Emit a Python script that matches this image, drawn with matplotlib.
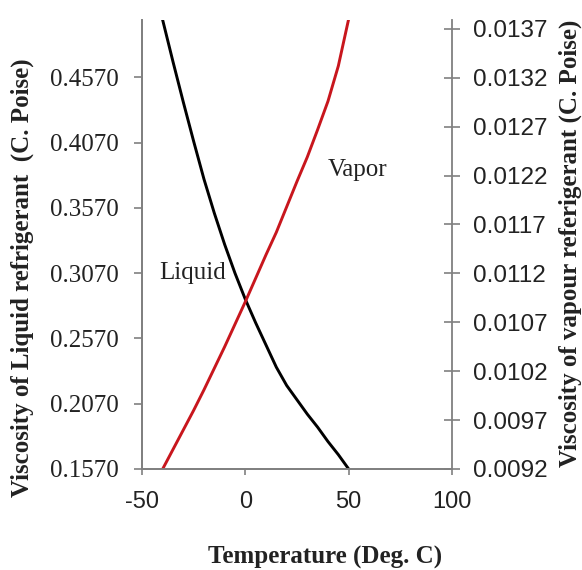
import matplotlib
matplotlib.use("Agg")
import matplotlib.pyplot as plt
from matplotlib.ticker import FormatStrFormatter

plt.rcParams["axes.unicode_minus"] = False

# temperature (deg C)
temp = [-40, -35, -30, -25, -20, -15, -10, -5, 0, 5, 10, 15, 20, 25, 30, 35, 40, 45, 50]
# liquid viscosity (C. Poise), left axis
liquid = [0.501, 0.469, 0.438, 0.408, 0.379, 0.353, 0.329, 0.307, 0.287, 0.269,
          0.252, 0.235, 0.221, 0.210, 0.199, 0.189, 0.178, 0.168, 0.157]
# vapour viscosity (C. Poise), right axis
vapor = [0.00920, 0.00940, 0.00960, 0.00980, 0.01001, 0.01023, 0.01045, 0.01068, 0.01091,
         0.01115, 0.01139, 0.01162, 0.01188, 0.01214, 0.01239, 0.01267, 0.01296, 0.01332, 0.01380]

x_ticks = [-50, 0, 50, 100]
left_ticks = [0.157, 0.207, 0.257, 0.307, 0.357, 0.407, 0.457]
right_ticks = [0.0092, 0.0097, 0.0102, 0.0107, 0.0112, 0.0117, 0.0122, 0.0127, 0.0132, 0.0137]

serif = "Liberation Serif"
sans = "Liberation Sans"
spine_col = "#808080"
text_col = "#222222"

fig = plt.figure(figsize=(5.82, 5.70), dpi=100)
ax = fig.add_axes([0.244, 0.1772, 0.5326, 0.7877])
ax2 = ax.twinx()

ax.plot(temp, liquid, color="black", linewidth=2.1, solid_joinstyle="round")
ax2.plot(temp, vapor, color="#c8161d", linewidth=2.1, solid_joinstyle="round")

ax.set_xlim(-50, 100)
ax.set_ylim(0.157, 0.501)
ax2.set_ylim(0.0092, 0.01379)

ax.set_xticks(x_ticks)
ax.set_yticks(left_ticks)
ax2.set_yticks(right_ticks)
ax.yaxis.set_major_formatter(FormatStrFormatter("%.4f"))
ax2.yaxis.set_major_formatter(FormatStrFormatter("%.4f"))

for a in (ax, ax2):
    for s in a.spines.values():
        s.set_color(spine_col)
        s.set_linewidth(1.3)
    a.spines["top"].set_visible(False)
ax.spines["right"].set_visible(False)

ax.tick_params(axis="y", direction="out", length=6, width=1.2, color=spine_col,
               pad=11, labelsize=18, labelcolor=text_col)
ax.tick_params(axis="x", direction="out", length=4.5, width=1.2, color=spine_col,
               pad=11, labelsize=17, labelcolor=text_col)
ax2.tick_params(axis="y", direction="inout", length=12, width=1.2, color=spine_col,
                pad=9, labelsize=17.5, labelcolor=text_col)
for lab in ax.get_yticklabels():
    lab.set_fontfamily(serif)
for lab in ax.get_xticklabels() + ax2.get_yticklabels():
    lab.set_fontfamily(sans)

ax.text(-41.8, 0.3073, "Liquid", fontsize=18, family=serif, va="center", ha="left", color=text_col)
ax.text(40.0, 0.3864, "Vapor", fontsize=18, family=serif, va="center", ha="left", color=text_col)

fig.text(325 / 582, 1 - 557 / 570, "Temperature (Deg. C)", fontsize=18, family=serif,
         fontweight="bold", ha="center", va="center", color=text_col)
fig.text(22 / 582, 1 - 278 / 570, "Viscosity of Liquid refrigerant  (C. Poise)", fontsize=18,
         family=serif, fontweight="bold", rotation=90, ha="center", va="center", color=text_col)
fig.text(570 / 582, 1 - 243 / 570, "Viscosity of vapour referigerant (C. Poise)", fontsize=18,
         family=serif, fontweight="bold", rotation=90, ha="center", va="center", color=text_col)

fig.savefig("out.png", dpi=100)
